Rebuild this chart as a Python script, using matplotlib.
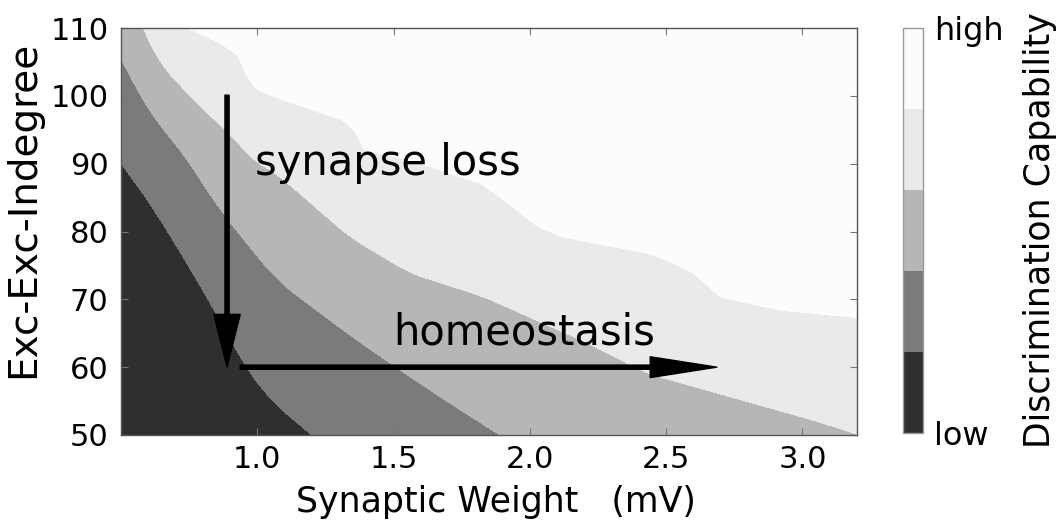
import numpy as np
import matplotlib
matplotlib.use("Agg")
import matplotlib.pyplot as plt
from matplotlib.colors import ListedColormap, BoundaryNorm
from matplotlib.cm import ScalarMappable

# boundaries between the five discrimination levels
# (x = synaptic weight in mV, y = exc-exc indegree)
b1_x = [0.5, 0.617, 0.764, 0.863, 0.948, 1.047, 1.20, 1.5, 3.3]
b1_y = [90.1, 83.6, 73.9, 67.0, 60.6, 55.2, 50.0, 40.0, 0.0]

b2_x = [0.5, 0.62, 0.705, 0.863, 1.072, 1.314, 1.487, 1.68, 1.80, 1.89, 2.2, 3.3]
b2_y = [105.5, 96.4, 93.0, 83.2, 72.8, 65.5, 60.6, 55.4, 52.3, 50.0, 43.0, 20.0]

b3_x = [0.5, 0.58, 0.643, 0.79, 0.90, 0.984, 1.07, 1.34, 1.56, 1.83, 2.2, 2.43, 3.04, 3.19, 3.3]
b3_y = [118.0, 110.0, 104.8, 98.4, 94.5, 90.5, 88.6, 79.2, 73.9, 70.4, 63.8, 59.1, 52.2, 50.3, 48.5]

b4_x = [0.5, 0.742, 0.863, 0.937, 0.948, 0.999, 1.094, 1.314, 1.366, 1.388, 1.56, 1.82,
        1.89, 2.03, 2.12, 2.43, 2.50, 2.60, 2.70, 2.92, 3.2, 3.3]
b4_y = [116.0, 110.0, 107.8, 105.7, 103.8, 100.9, 99.4, 96.4, 94.5, 92.0, 90.5, 87.1,
        85.1, 80.7, 79.2, 76.8, 75.8, 73.9, 70.3, 68.4, 67.3, 67.0]

level_colors = ['#2f2f2f', '#7b7b7b', '#b6b6b6', '#eaeaea', '#fcfcfc']
x_ticks = [1.0, 1.5, 2.0, 2.5, 3.0]
y_ticks = [50, 60, 70, 80, 90, 100, 110]


def smooth_edge(bx, by, xs, win):
    # piecewise-linear edge, then a running mean to round the corners
    step = xs[1] - xs[0]
    n = max(1, int(win / step))
    pad = np.arange(1, n + 1) * step
    slope_l = (np.interp(xs[0] + step, bx, by) - np.interp(xs[0], bx, by)) / step
    left = np.interp(xs[0], bx, by) - slope_l * pad[::-1]
    slope_r = (np.interp(xs[-1], bx, by) - np.interp(xs[-1] - step, bx, by)) / step
    right = np.interp(xs[-1], bx, by) + slope_r * pad
    full = np.concatenate([left, np.interp(xs, bx, by), right])
    k = np.ones(2 * n + 1) / (2 * n + 1)
    return np.convolve(full, k, mode='same')[n:-n]


xs = np.linspace(0.5, 3.2, 700)
ys = np.linspace(50, 110, 500)
e1 = smooth_edge(b1_x, b1_y, xs, 0.06)
e2 = smooth_edge(b2_x, b2_y, xs, 0.07)
e3 = smooth_edge(b3_x, b3_y, xs, 0.05)
e4 = smooth_edge(b4_x, b4_y, xs, 0.015)

Z = np.zeros((len(ys), len(xs)))
for j in range(len(xs)):
    bs = [e1[j], e2[j], e3[j], e4[j]]
    Z[:, j] = np.interp(ys, [bs[0] - 30] + bs + [bs[3] + 30], [0, 1, 2, 3, 4, 5])

cmap = ListedColormap(level_colors)

fig = plt.figure(figsize=(10.61, 5.23), dpi=100)
ax = fig.add_axes([121/1061, 1 - 435/523, 736/1061, 407/523])
ax.contourf(xs, ys, Z, levels=[-1, 1, 2, 3, 4, 6], colors=level_colors)

ax.set_xlim(0.5, 3.2)
ax.set_ylim(50, 110)
ax.set_xticks(x_ticks)
ax.set_yticks(y_ticks)
ax.tick_params(direction='in', top=True, right=True, length=5, width=0.8,
               color='#777777', labelsize=22)
ax.tick_params(axis='y', pad=9)
ax.tick_params(axis='x', pad=7)
for s in ax.spines.values():
    s.set_color('#555555')
    s.set_linewidth(1.0)

ax.set_xlabel('Synaptic Weight   (mV)', fontsize=25)
ax.set_ylabel('Exc-Exc-Indegree', fontsize=28)
ax.xaxis.set_label_coords(0.5095, -0.122)
ax.yaxis.set_label_coords(-0.107, 0.555)

# arrows and annotations
ax.annotate('', xy=(0.889, 60.0), xytext=(0.889, 100.1),
            arrowprops=dict(facecolor='black', edgecolor='black', width=3,
                            headwidth=19, headlength=38, shrink=0))
ax.annotate('', xy=(2.686, 60.0), xytext=(0.937, 60.0),
            arrowprops=dict(facecolor='black', edgecolor='black', width=3,
                            headwidth=15, headlength=48, shrink=0))
ax.text(0.99, 88.3, 'synapse loss', fontsize=30, va='baseline', ha='left')
ax.text(1.498, 63.3, 'homeostasis', fontsize=30, va='baseline', ha='left')

# colorbar
cax = fig.add_axes([903/1061, 1 - 433/523, 20/1061, 405/523])
sm = ScalarMappable(norm=BoundaryNorm([0, 1, 2, 3, 4, 5], 5), cmap=cmap)
cb = fig.colorbar(sm, cax=cax, ticks=[0, 5])
cb.set_ticklabels(['low', 'high'])
cb.ax.minorticks_off()
cb.ax.tick_params(which='both', length=0, labelsize=23, pad=8)
cb.outline.set_edgecolor('#999999')
cb.outline.set_linewidth(1.0)
fig.text(1040/1061, 1 - 230/523, 'Discrimination Capability', fontsize=25,
         rotation=90, ha='center', va='center')

fig.savefig('out.png', dpi=100)
